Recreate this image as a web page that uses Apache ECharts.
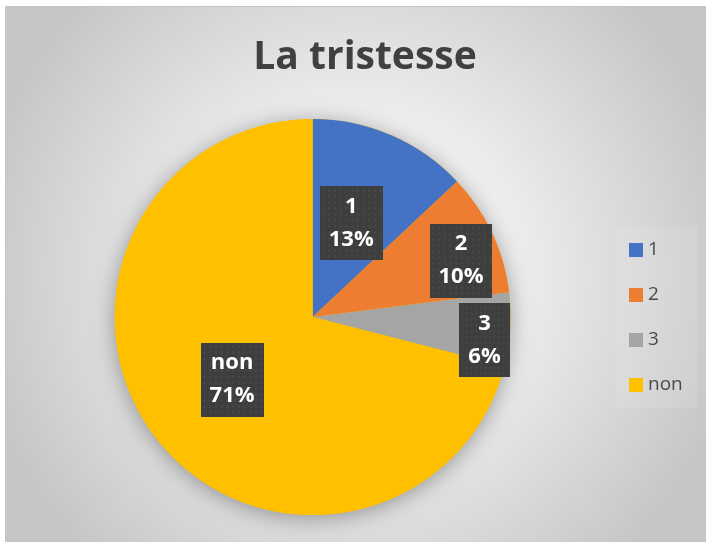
<!DOCTYPE html>
<html>
<head>
<meta charset="utf-8">
<script src="https://cdn.jsdelivr.net/npm/echarts@6/dist/echarts.min.js"></script>
<style>
html, body { margin: 0; padding: 0; background: #ffffff; }
#main { width: 706px; height: 542px; }
</style>
</head>
<body>
<div id="main"></div>
<script>
// données
var categories = ['1', '2', '3', 'non'];
var percents = [13, 10, 6, 71];
var colors = ['#4472C4', '#ED7D31', '#A5A5A5', '#FFC000'];
// décalage des étiquettes par rapport à la position "inside"
var labelShift = [[-2, 0], [56, -13], [70, 17], [0, 0]];

// fond sombre pointillé des étiquettes
function dotPattern() {
    var c = document.createElement('canvas');
    c.width = 66; c.height = 74;
    var g = c.getContext('2d');
    g.fillStyle = '#3e3e3e';
    g.fillRect(0, 0, 66, 74);
    g.fillStyle = '#4a4a4a';
    for (var x = 3; x < 66; x += 6) {
        for (var y = 3; y < 74; y += 6) {
            g.fillRect(x, y, 2, 2);
        }
    }
    return c;
}

var myChart = echarts.init(document.getElementById('main'));
var pieData = categories.map(function (name, i) {
    return { name: name, value: percents[i], itemStyle: { color: colors[i] } };
});

var option = {
    backgroundColor: '#ffffff',
    animation: false,
    graphic: [{
        type: 'rect',
        silent: true,
        z: 0,
        shape: { x: 5.5, y: 6.5, width: 701, height: 536 },
        style: {
            fill: new echarts.graphic.RadialGradient(0.5, 0.5, 0.72, [
                { offset: 0, color: '#ffffff' },
                { offset: 0.35, color: '#f2f2f2' },
                { offset: 1, color: '#c6c6c6' }
            ]),
            stroke: '#c4c4c4',
            lineWidth: 1
        }
    }],
    title: {
        text: 'La tristesse',
        left: 360,
        top: 33,
        textAlign: 'center',
        textStyle: {
            fontFamily: 'Open Sans',
            fontWeight: 'bold',
            fontSize: 39,
            color: '#404040'
        }
    },
    legend: {
        orient: 'vertical',
        left: 616,
        top: 227,
        padding: [13, 15, 13, 13],
        backgroundColor: 'rgba(255,255,255,0.1)',
        data: categories,
        icon: 'rect',
        itemWidth: 14,
        itemHeight: 14,
        itemGap: 25,
        textStyle: {
            fontFamily: 'Open Sans',
            fontSize: 19,
            lineHeight: 20,
            color: '#4a4a4a'
        }
    },
    series: [
        {
            // ombre portée du disque
            name: 'ombre',
            type: 'pie',
            silent: true,
            center: [312.7, 317],
            radius: 198,
            z: 1,
            label: { show: false },
            labelLine: { show: false },
            itemStyle: {
                color: '#FFC000',
                shadowBlur: 22,
                shadowColor: 'rgba(0,0,0,0.35)',
                shadowOffsetY: 3
            },
            data: [{ name: 'ombre', value: 1 }]
        },
        {
            name: 'La tristesse',
            type: 'pie',
            center: [312.7, 317],
            radius: 198,
            startAngle: 90,
            clockwise: true,
            z: 2,
            label: {
                show: true,
                position: 'inside',
                formatter: '{b}\n{d}%',
                fontFamily: 'Open Sans',
                fontWeight: 'bold',
                fontSize: 22,
                lineHeight: 33,
                color: '#ffffff',
                align: 'center',
                padding: [5, 9, 3, 9],
                backgroundColor: { image: dotPattern() },
                shadowColor: 'rgba(0,0,0,0.45)',
                shadowBlur: 6,
                shadowOffsetX: 3,
                shadowOffsetY: 3
            },
            labelLayout: function (p) {
                var s = labelShift[p.dataIndex];
                return { dx: s[0], dy: s[1] };
            },
            labelLine: { show: false },
            data: pieData
        }
    ]
};
myChart.setOption(option);
</script>
</body>
</html>
